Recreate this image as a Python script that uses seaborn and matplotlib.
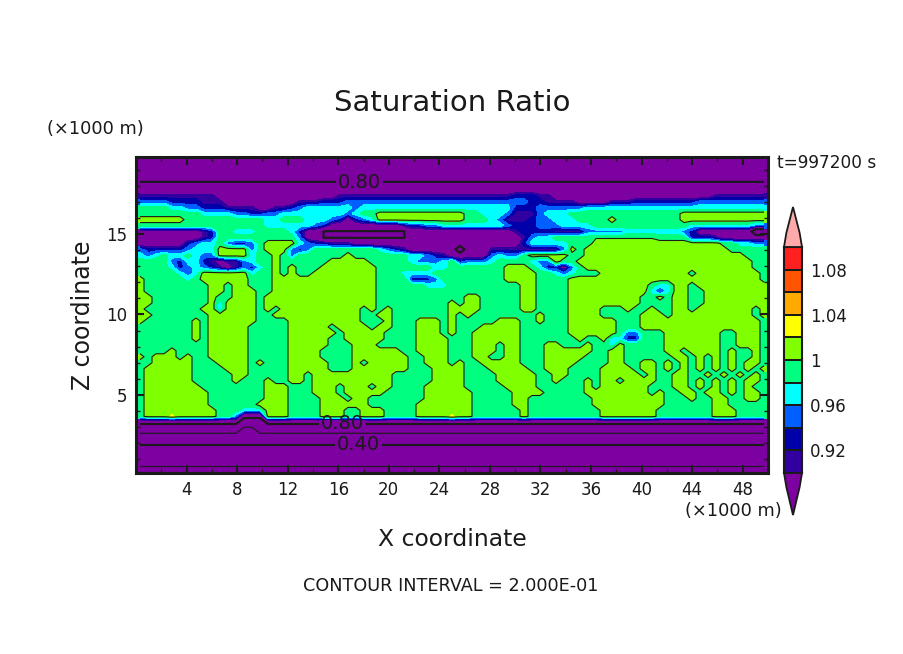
import numpy as np
import pandas as pd
import seaborn as sns
import matplotlib
matplotlib.use("Agg")
import matplotlib.pyplot as plt
from matplotlib.colors import ListedColormap, BoundaryNorm
from matplotlib.patches import Rectangle

W, H = 904, 654
title_text = "Saturation Ratio"
x_label = "X coordinate"
z_label = "Z coordinate"
unit_label = "(\u00d71000 m)"
time_label = "t=997200 s"
interval_label = "CONTOUR INTERVAL = 2.000E-01"
x_major = [4, 8, 12, 16, 20, 24, 28, 32, 36, 40, 44, 48]
x_minor = [2, 6, 10, 14, 18, 22, 26, 30, 34, 38, 42, 46, 50]
z_major = [5, 10, 15]
z_minor = [1, 2, 3, 4, 6, 7, 8, 9, 11, 12, 13, 14, 16, 17, 18, 19]
x_range = (0.0, 50.0)
z_range = (0.155, 19.78)

level_edges = [-9, 0.90, 0.92, 0.94, 0.96, 0.98, 1.00, 1.02, 1.04, 1.06, 1.08, 1.10, 9]
level_colors = ["#7d00a0", "#3200a0", "#0000aa", "#0060ff", "#00ffff", "#00ff80",
                "#80ff00", "#ffff00", "#ffaa00", "#ff5500", "#ff2020", "#ffaaaa"]
cbar_ticks = ["1.08", "1.04", "1", "0.96", "0.92"]
line_levels_major = [0.4, 0.8]
line_levels_minor = [0.2, 0.6, 1.0]
line_label_x = [17.7, 16.3, 17.6]
line_label_z = [18.2, 3.2, 1.9]
line_label_text = ["0.80", "0.80", "0.40"]

# value read for each letter of the grid below
code_values = {"p": 0.87, "i": 0.91, "n": 0.93, "b": 0.95, "c": 0.97, "g": 0.99, "e": 0.998,
               "y": 1.01, "Y": 1.024, "l": 0.795, "D": 0.72, "Q": 0.84, "R": 0.70, "S": 0.58,
               "T": 0.50, "U": 0.38, "V": 0.33, "W": 0.28, "X": 0.22, "Z": 0.14}

# saturation ratio, top row first (79 columns, 53 rows)
saturation_rows = [
    "D" * 79, "D" * 79, "D" * 79, "D" * 79, "Q" * 79, "p" * 79,
    "iiiiiiiiii pppppppppp pppppiiiii iiiiiiiiii iiiiiiinnn iipppppppp pppppppppp ppiiiiiii",
    "bbbbnnnnii ippppppppp iiinnnbbbb bbbbbbbbbb bbbbbbbbbn niiiippppi iinnnnnnnn bbbbbbbbb",
    "ggggccbbnn niiiippiin bccccccbcc cccccccccc cccccccnnn bbbbbbcccc cccccccccc ccccccccc",
    "ggggggggcc ccbbnnbbcc ccccccbcgg yyyyyyyyyy yggcccbiii bcccgggggg ggggggggyy yyyyyyyyy",
    "yyyyyygggg ggggggccgg gcccbnpnbc yyyyyyyyyy ygggcbiiin bbcccggggy ggggggggyy yyyyyyyyy",
    "gggggggggg ggggggcccc ccbnpppppp pppinnbbcc ccccccbnnn bbbccccggg gggggggggc cccccccbb",
    "ppppppppin ggcccggggc npplllllll llllpppppp pppppppinn nniiiibbbb bcccccccbn pppppppRR",
    "ppppppppin gggggggggg bpplllllll llllpppppp ppppppppib ccgggggeee eeeeeggggn nnipppppp",
    "ppppppnbcc gbnnbgyyyy cbnniiippp pppppppppp ppppppppnc ccccgggyyy yyyyyyyyyy yyyggccbb",
    "bnnnnnbccc yyyybgyyyb nbgggggggg cbnipppppp Rpppiiiiii iiibygyyyy yyyyyyyyyy yyyyggggg",
    "cbcgccgcbb yyyycggygb ggggggyggg ggggccbnip ppppbcbbgy yyyyggyyyy yyyyyyyyyy yyyyyyggg",
    "ggggbnccni piibcggygg ggggyyyyyg ggggcbbbcg nbbbcggggc bbyggyyyyy yyyyyyyyyy yyyyyyygg",
    "ggggcnbcbn ipibncgygy gggyyyyyyy gggggggccg ggggggyyyg cnnpbgyyyy yyyyyyyyyy yyyyyyygg",
    "gggggcbcyy yyyycggygy ggyyyyyyyy gggccccggg ggggggyyyy ggcbcgggyy yyyyyyyyyg yyyyyyyyg",
    "ygggggcgyy yyyygggyyy yyyyyyyyyy ggggnnnbgg ggggggyyyy ggggyyyyyy yyyyyyyyyy yyyyyyyyg",
    "yggggggggy ygyygggyyy yyyyyyyyyy ggggggcccg ggggggggyy ggggyyyyyy yyyygccyyg yyyyyyyyy",
    "yggggggggy ygyyyggyyy yyyyyyyyyy gggggggggg ggggggggyy ggggyyyyyy yyyycncyyg gyyyyyyyy",
    "yygggggggy ggyyygyyyy yyyyyyyyyy gggggggggg gyygggggyy ggggyyyyyy yyyggygyyg gyyyyyyyy",
    "yygggggggy cyyyygyyyy yyyyyyyyyy gggggggggy gyygggggyy ggggyyyyyy yyyggggyyg gyyyyyyyy",
    "ygggggggyy cyyyygygyy yyyyyyyygy gygggggggy yyygggggyy ggggyyyygg gyggyggyyg yyyyyyygy",
    "yygggggggy yyyyyggyyy yyyyyyyygg yygggggggy gygggggggg ygggyyyygg gggyyygyyy yyyyyyygy",
    "yggggggygy yyyyyggggy yyyyyyyygg gygggyyygy gggggyyygg ygggyyyyyy gggyyyyyyy yyyyyyyyg",
    "gggggggygy yyyygggggy yyyygyyyyg yygggyyygy gggyyyyygg ggggyyyyyy gggyyyyyyy yyyyyyyyg",
    "gggggggygy yyyygggggy yyyyygyyyy yggggyyygy ggyyyyyygg ggggyyyyyy gbbgggyyyy yyyggyyyg",
    "gggggggygy yyyygggggy yyyyggyyyy yggggyyyyg ggyyyyyygg gggggyggyc cnngggyyyy yyyggyyyg",
    "gggggggggy yyyygggggy yyyygggyyy gggggyyyyg ggyyygyygg gyygggyggc ygggggyyyy yyyggyyyg",
    "ggggyggggy yyyygggggy yyyggggyyy yyyggyyyyg ggyyygyygg gyyyyyyggy ygggggyygy yyygyggyg",
    "ygyyygyggy yyyygggggy yyyggggyyy yyyyggyyyg ggyyggyygg gyyyyygggy yggggggyyg ygygyggyg",
    "ggyyyyyggg yyyygygggy yyyygggygy yyyyggyyyg yggyyyyygg gyyyyggggy yggyygygyg ygygygyyg",
    "gyyyyyyggg gyyygggggy yyyygggyyy yyyygggyyy ygggyyyyyg gyyyggggyy yygyygygyg ygygygygy",
    "gyyyyyyggg ggyygggggy ygyyyyyyyy yygggggyyy yggggyyyyy ggyyggggyy yyygyggyyg gygygygyg",
    "gyyyyyyggg ggygggyggy ygyyyyyyyy yygggggyyy yggggyyyyy ggygggygyy gyyyyggyyg ygygygyyg",
    "gyyyyyyygg ggggggyyyg ggyyygyyyg yyggggyyyy ygggggyyyy ggggggygyy yyyygggyyg ygygygygg",
    "gyyyyyyyyg ggggggyyyg ggyyygyyyy ygggggyyyy yygggggyyy ygggggyyyy yyyygyggyy gyygygyyg",
    "gyyyyyyyyg ggggggyyyg gggyyygyyg ggggggyyyy yygggggyyg gggggggyyy yyyyyygggy ggyyggyyg",
    "gyyyyyyyyg gggggyyyyg gggyyyyyyg gggggyyyyy yygggggyyg gggggggyyy yyyyyygggg ggyyggggg",
    "gyyyyyyyyy gggcccyyyg gggyyyggyy yggggyyyyy yyggggggyg ggggggggyy yyyyyggggg ggyyygggg",
    "gyyyYyyyyy ggbQQQyyyg gggyyyggyy yggggyyyyY yyggggggyg ggggggggyy yyyyyggggg ggyyygggg",
    "QQQQQQQQQQ QQQRRRQQQQ " + "Q" * 59,
    "RRRRRRRRRR RRRSSRRRRR " + "R" * 59,
    "S" * 79, "T" * 79, "U" * 79, "V" * 79, "W" * 79, "X" * 79, "Z" * 79,
]

sns.set_theme(style="ticks")
plt.rcParams["font.family"] = ["DejaVu Sans"]

grid = np.array([[code_values[c] for c in r.replace(" ", "").ljust(79, r[-1])[:79]]
                 for r in saturation_rows])
n_rows, n_cols = grid.shape
frame = pd.DataFrame(grid)
cmap = ListedColormap(level_colors)
norm = BoundaryNorm(level_edges, cmap.N)


def col_of(x):
    return (x - x_range[0]) * n_cols / (x_range[1] - x_range[0])


def row_of(z):
    return (z_range[1] - z) * n_rows / (z_range[1] - z_range[0])


fig = plt.figure(figsize=(W / 100, H / 100), dpi=100, facecolor="white")
ax = fig.add_axes([136 / W, 1 - 473 / H, 632 / W, 316 / H])
sns.heatmap(frame, cmap=cmap, norm=norm, cbar=False, ax=ax, xticklabels=False, yticklabels=False)

cx = np.arange(n_cols) + 0.5
cy = np.arange(n_rows) + 0.5
ax.contourf(cx, cy, grid, levels=level_edges, colors=level_colors, antialiased=False)
ax.contour(cx, cy, grid, levels=line_levels_minor, colors="k", linewidths=0.8)
ax.contour(cx, cy, grid, levels=line_levels_major, colors="k", linewidths=1.5)

ax.set_axisbelow(False)
for s in ax.spines.values():
    s.set_visible(True)
    s.set_linewidth(2.2)
    s.set_color("k")
    s.set_zorder(6)
ax.set_xticks([col_of(v) for v in x_major])
ax.set_xticklabels([str(v) for v in x_major], rotation=0, fontsize=12, color="k")
ax.set_xticks([col_of(v) for v in x_minor], minor=True)
ax.set_yticks([row_of(v) for v in z_major])
ax.set_yticklabels([str(v) for v in z_major], rotation=0, fontsize=12, color="k")
ax.set_yticks([row_of(v) for v in z_minor], minor=True)
ax.tick_params(which="major", direction="in", length=6, width=1.5, top=True, right=True,
               bottom=True, left=True, color="k", pad=6)
ax.tick_params(which="minor", direction="in", length=3, width=1, top=True, right=True,
               bottom=True, left=True, color="k")
ax.set_xlabel("")
ax.set_ylabel("")

# gap in the contour line under each inline label
purple = level_colors[0]
gap_w = 3.7 * n_cols / 50
gap_h = 0.55 * n_rows / (z_range[1] - z_range[0])
for x, z, s in zip(line_label_x, line_label_z, line_label_text):
    ax.add_patch(Rectangle((col_of(x) - gap_w / 2, row_of(z) - gap_h / 2), gap_w, gap_h,
                           facecolor=purple, edgecolor="none", zorder=4))
    ax.text(col_of(x), row_of(z), s, ha="center", va="center", fontsize=14, color="k", zorder=5)

# colour key
cax = fig.add_axes([784 / W, 1 - 473 / H, 18 / W, 226 / H])
key_mids = [[(a + b) / 2] for a, b in zip(level_edges[1:-2], level_edges[2:-1])][::-1]
sns.heatmap(pd.DataFrame(key_mids), cmap=cmap, norm=norm, cbar=False, ax=cax,
            linewidths=1.3, linecolor="k", xticklabels=False, yticklabels=False)
for s in cax.spines.values():
    s.set_visible(True)
    s.set_linewidth(1.5)
    s.set_color("k")
cax.set_yticks([1, 3, 5, 7, 9])
cax.set_yticklabels(cbar_ticks, rotation=0, fontsize=12, color="k")
cax.yaxis.tick_right()
cax.tick_params(axis="y", length=0, pad=6)
cax.fill([0, 0.13, 0.5, 0.87, 1], [0, -0.62, -1.77, -0.62, 0], facecolor=level_colors[-1],
         edgecolor="k", lw=1.3, clip_on=False, zorder=5)
cax.fill([0, 0.13, 0.5, 0.87, 1], [10, 10.62, 11.86, 10.62, 10], facecolor=level_colors[0],
         edgecolor="k", lw=1.3, clip_on=False, zorder=5)


def put(px, py, s, size, **kw):
    fig.text(px / W, 1 - py / H, s, fontsize=size, color="k", va="center", **kw)


put(452, 103, title_text, 21, ha="center")
put(47, 129, unit_label, 12.8, ha="left")
put(782, 511, unit_label, 12.8, ha="right")
put(777, 163, time_label, 12.2, ha="left")
put(452, 539, x_label, 16.9, ha="center")
put(83, 315, z_label, 17, ha="center", rotation=90)
put(451, 586, interval_label, 12.7, ha="center")

fig.savefig("out.png", dpi=100, facecolor="white")
